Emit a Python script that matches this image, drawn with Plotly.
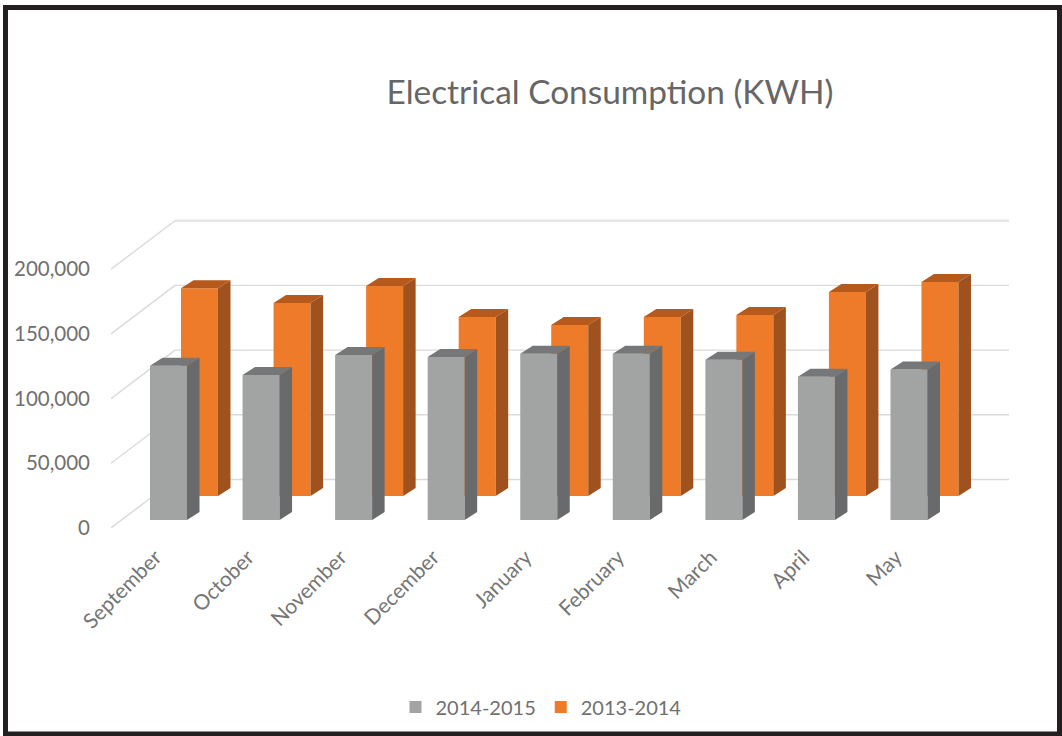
import plotly.graph_objects as go

months = ["September", "October", "November", "December", "January", "February", "March", "April", "May"]
kwh_2014_2015 = [119200, 112000, 127500, 126000, 128400, 128400, 123800, 110700, 116400]
kwh_2013_2014 = [160500, 149100, 162300, 138300, 132100, 138300, 139900, 157600, 165400]
y_ticks = [0, 50000, 100000, 150000, 200000]

W, H = 1062, 736
PX_LEFT, PX_RIGHT, PX_TOP, PX_ZERO = 111, 1009, 200, 528
PX_PER_CAT = 92.56
PX_PER_KWH = 64.7 / 50000
PX_CAT0 = 168.5

def xu(px):
    return px / PX_PER_CAT

def yu(px):
    return px / PX_PER_KWH

x_range = [xu(PX_LEFT - PX_CAT0), xu(PX_RIGHT - PX_CAT0)]
y_range = [0, yu(PX_ZERO - PX_TOP)]

BAR_W = xu(37)
GRAY = dict(name="2014-2015", vals=kwh_2014_2015, dx=0, base=yu(8),
            front="#A2A3A3", side="#696A6B", top="#767778")
ORNG = dict(name="2013-2014", vals=kwh_2013_2014, dx=xu(31), base=yu(32),
            front="#EE7B2A", side="#9F521D", top="#B5591C")
DEPTH_X, DEPTH_Y = xu(12.5), yu(8)

fig = go.Figure()


def add_series(s, rank):
    fig.add_trace(go.Bar(
        x=[i + s["dx"] for i in range(len(months))], y=s["vals"], base=s["base"],
        width=BAR_W, name=s["name"], marker=dict(color=s["front"], line_width=0),
        legendrank=rank, hoverinfo="skip"))


def add_faces(s):
    side_x, side_y, top_x, top_y = [], [], [], []
    for i, v in enumerate(s["vals"]):
        l = i + s["dx"] - BAR_W / 2
        r = i + s["dx"] + BAR_W / 2
        b = s["base"]
        t = b + v
        side_x += [r, r, r + DEPTH_X, r + DEPTH_X, r, None]
        side_y += [b, t, t + DEPTH_Y, b + DEPTH_Y, b, None]
        top_x += [l, r, r + DEPTH_X, l + DEPTH_X, l, None]
        top_y += [t, t, t + DEPTH_Y, t + DEPTH_Y, t, None]
    for xs, ys, c in ((side_x, side_y, s["side"]), (top_x, top_y, s["top"])):
        fig.add_trace(go.Scatter(x=xs, y=ys, mode="lines", fill="toself", fillcolor=c,
                                 line=dict(width=0, color=c), showlegend=False, hoverinfo="skip"))


add_series(ORNG, 2)
add_series(GRAY, 1)
add_faces(ORNG)
add_faces(GRAY)

# Walls: one polyline per axis tick, front-left -> back-left -> back-right
shapes = []
bx0 = xu(PX_LEFT - PX_CAT0)
bx1 = xu(175 - PX_CAT0)
for tick in y_ticks:
    yb = tick + yu(48.5)
    width = 2.4 if tick == y_ticks[-1] else 1.4
    col = "#E6E6E6" if tick == y_ticks[-1] else "#DADADA"
    shapes.append(dict(type="line", xref="x", yref="y", x0=bx0, y0=tick, x1=bx1, y1=yb,
                       layer="below", line=dict(color="#DADADA", width=1.4)))
    shapes.append(dict(type="line", xref="x", yref="y", x0=bx1, y0=yb, x1=x_range[1], y1=yb,
                       layer="below", line=dict(color=col, width=width)))

# Picture frame
pw = PX_RIGHT - PX_LEFT
ph = PX_ZERO - PX_TOP
shapes.append(dict(type="rect", xref="paper", yref="paper",
                   x0=(5.5 - PX_LEFT) / pw, x1=(1059.5 - PX_LEFT) / pw,
                   y0=(PX_ZERO - 734) / ph, y1=(PX_ZERO - 7.5) / ph,
                   layer="above", line=dict(color="#231F20", width=5)))

FONT = "Lato, Carlito, sans-serif"
fig.update_layout(
    width=W, height=H, autosize=False,
    margin=dict(l=PX_LEFT, r=W - PX_RIGHT, t=PX_TOP, b=H - PX_ZERO, autoexpand=False),
    paper_bgcolor="white", plot_bgcolor="white",
    barmode="overlay", shapes=shapes,
    font=dict(family=FONT, color="#707070"),
    title=dict(text="Electrical Consumption (KWH)", x=610 / W, y=1 - 92 / H,
               xanchor="center", yanchor="middle",
               font=dict(size=33.4, color="#666666", family=FONT)),
    xaxis=dict(range=x_range, tickmode="array", tickvals=list(range(len(months))), ticktext=months,
               tickangle=-45, showgrid=False, zeroline=False, showline=False, ticks="",
               tickfont=dict(size=21, color="#767676"), ticklabelstandoff=12, ticklabelshift=-13),
    yaxis=dict(range=y_range, tickmode="array", tickvals=y_ticks, ticktext=[f"{t:,}" for t in y_ticks],
               showgrid=False, zeroline=False, showline=False, ticks="",
               tickfont=dict(size=20.5, color="#707070"), ticklabelstandoff=20),
    legend=dict(orientation="h", x=(541 - PX_LEFT) / pw, xanchor="center",
                y=(PX_ZERO - 707) / ph, yanchor="middle",
                font=dict(size=20, color="#707070"), itemclick=False, itemdoubleclick=False),
    showlegend=True,
)

fig.write_html("out.html", config=dict(displayModeBar=False),
               post_script="document.body.style.margin='0';document.body.style.overflow='hidden';")
